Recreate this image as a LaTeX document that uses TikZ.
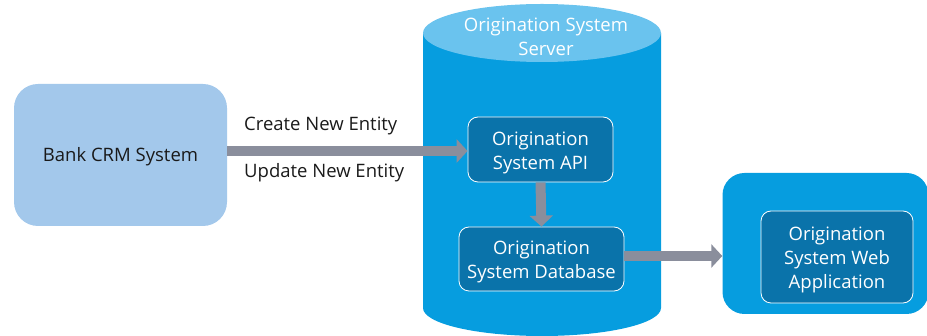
\documentclass[tikz,border=0pt]{standalone}
\usepackage{fontspec}
\setmainfont{Open Sans}
\usetikzlibrary{arrows.meta,positioning}
\definecolor{crm}{HTML}{A3C8EB}
\definecolor{cylbody}{HTML}{069DDF}
\definecolor{cyltop}{HTML}{6AC3EE}
\definecolor{inner}{HTML}{0A73AA}
\definecolor{arrowgray}{HTML}{8A8E9C}
\definecolor{txt}{HTML}{1A1A1A}
\tikzset{
  x=1pt,y=-1pt,
  txtstyle/.style={font=\fontsize{18.5}{24}\selectfont},
  intext/.style={txtstyle,text=white,align=center,inner sep=0pt,yshift=-3pt},
  innerbox/.style={draw=white,line width=0.8pt,fill=inner,rounded corners=10pt,inner sep=0pt},
  bigarrow/.style={draw=arrowgray,line width=10pt,-{Triangle[width=23pt,length=11pt]}},
  lbl/.style={text=txt,txtstyle,anchor=west,inner sep=0pt}
}
\begin{document}
\begin{tikzpicture}
\useasboundingbox (0,0) rectangle (927,336);
\begin{scope}
\clip (0,0) rectangle (927,336);
% CRM box
\node[fill=crm,rounded corners=24pt,minimum width=213pt,minimum height=142pt,inner sep=0pt,
  label={[txtstyle,text=txt,inner sep=0pt,yshift=-2pt]center:Bank CRM System}] (crm) at (120.5,155) {};
% cylinder
\fill[cylbody] (423,33) -- (423,308) arc[start angle=180,end angle=360,x radius=119pt,y radius=28pt] -- (661,33) -- cycle;
\fill[cyltop] (542,33) ellipse[x radius=119pt,y radius=29pt];
\node[text=white,align=center,txtstyle,inner sep=0pt] (srv) at (546,37) {Origination System\\Server};
% web app outer
\node[fill=cylbody,rounded corners=22pt,minimum width=206pt,minimum height=141pt,inner sep=0pt] (web) at (825.5,243.5) {};
% inner boxes
\node[innerbox,minimum width=145pt,minimum height=65pt,
  label={[intext]center:Origination\\System API}] (api) at (540.5,149.5) {};
\node[innerbox,minimum width=165pt,minimum height=64pt,
  label={[intext]center:Origination\\System Database}] (db) at (541.5,259) {};
\node[innerbox,minimum width=152pt,minimum height=92pt,
  label={[intext]center:Origination\\System Web\\Application}] (wapp) at (837,257) {};
% arrows
\draw[bigarrow] (crm.east |- 0,151) -- (api.west |- 0,151);
\draw[bigarrow] (api.south) -- (db.north);
\draw[bigarrow] (db.east |- 0,256) -- (web.west |- 0,256);
% labels
\node[lbl] (l1) at (244,126) {Create New Entity};
\node[lbl] (l2) at (244,173) {Update New Entity};
\end{scope}
\end{tikzpicture}
\end{document}
